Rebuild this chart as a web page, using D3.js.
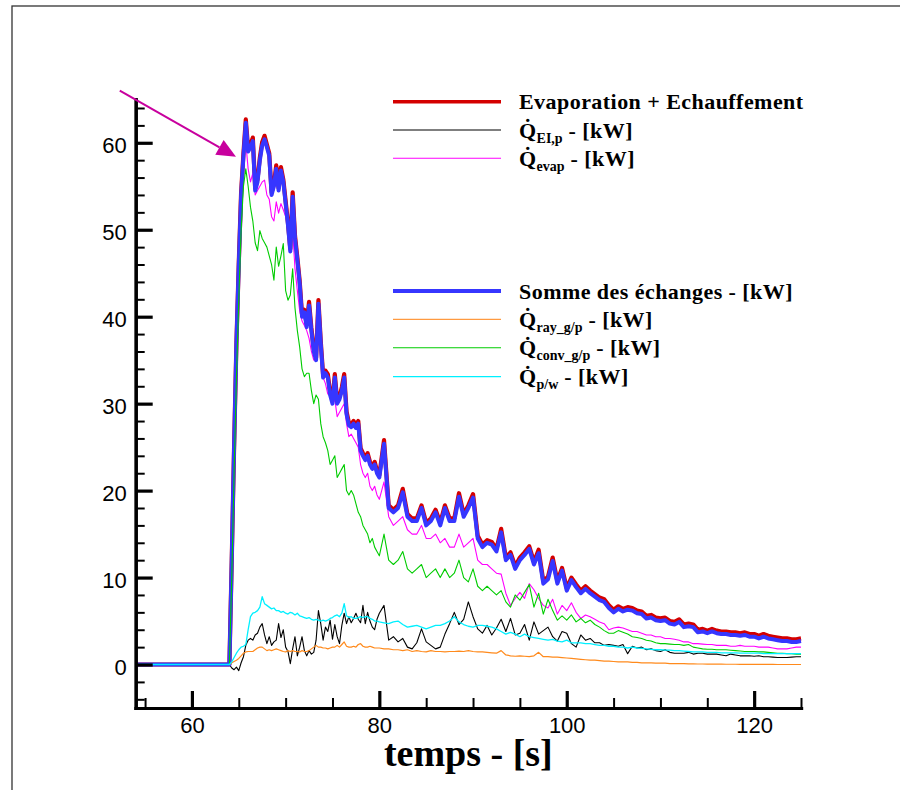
<!DOCTYPE html>
<html><head><meta charset="utf-8">
<script src="https://cdn.jsdelivr.net/npm/d3@7"></script>
<style>body{margin:0;background:#fff}svg{display:block}</style>
</head><body>
<svg id="c" width="900" height="790"></svg>
<script>
// ---------- DATA ----------
const time = [54,
 64,
 64.25,64.5,64.75,65,65.25,65.5,65.75,66,
 66.25,66.5,66.75,67,67.25,67.5,67.75,68,
 68.25,68.5,68.75,69,69.25,69.5,69.75,70,
 70.25,70.5,70.75,71,71.25,71.5,71.75,72,
 72.25,72.5,72.75,73,73.25,73.5,73.75,74,
 74.25,74.5,74.75,75,75.25,75.5,75.75,76,
 76.25,76.5,76.75,77,77.25,77.5,77.75,78,
 78.25,78.5,78.75,79,79.25,79.5,79.75,80,
 80.5,81,81.5,82,82.5,83,83.5,84,84.5,85,
 85.5,86,86.5,87,87.5,88,88.5,89,89.5,90,
 90.5,91,91.5,92,92.5,93,93.5,94,94.5,95,
 95.5,96,96.5,97,97.5,98,98.5,99,99.5,100,
 100.5,101,101.5,102,102.5,103,103.5,104,104.5,105,
 105.5,106,106.5,107,107.5,108,108.5,109,109.5,110,
 110.5,111,111.5,112,112.5,113,113.5,114,114.5,115,
 115.5,116,116.5,117,117.5,118,118.5,119,119.5,120,
 120.5,121,121.5,122,122.5,123,123.5,124,124.5,125];

// Evaporation + Echauffement (red)
const evapEchauff = [0,
 0,
 12,25,37,46.2,54.3,58.8,62.7,59.3,
 59.8,60.6,54.8,55.8,58.3,60.1,60.8,59.8,
 58.8,54.3,55.3,57.4,54.8,57.2,55.8,53.3,
 50.8,47.8,54.3,49.3,46.8,44.1,40.3,40.8,
 39.1,41.7,38.7,36.3,35.3,41.9,37.2,33.3,
 33.8,33.4,31.3,30.3,33.4,30.3,30.8,31.9,
 33.4,29.1,27.8,27.6,28.0,27.5,28.0,24.9,
 24.3,23.8,24.3,23.3,22.8,23.3,22.3,21.8,
 25.8,18.3,17.8,18.3,20.2,17.3,16.8,16.8,18.3,16.3,
 16.8,17.8,16.3,18.3,16.8,16.8,19.7,17.3,18.3,19.6,
 14.8,13.8,14.3,14.1,13.3,15.6,12.3,12.9,11.3,12.3,
 12.9,13.6,11.8,13.2,9.6,10.1,12.3,9.6,11.1,8.8,
 10.0,9.2,8.5,9.0,8.5,8.1,7.7,7.5,6.8,6.3,
 6.7,6.4,6.6,6.5,6.2,6.1,5.6,5.7,5.4,5.3,
 5.4,5.0,4.9,5.2,4.6,4.7,4.6,4.0,4.1,3.9,
 4.1,3.9,3.8,3.8,3.7,3.7,3.6,3.7,3.5,3.5,
 3.3,3.5,3.3,3.2,3.1,3.0,3.0,2.9,2.9,3.0];

// Q_EI,p (black)
const qEIp = [0,
 0,
 -0.4,-0.6,-0.3,-0.7,0.2,0.9,2.2,2.8,
 3.0,2.8,3.4,3.6,4.3,4.7,3.4,2.4,
 3.2,2.2,2.6,2.8,4.7,3.1,4.0,2.0,
 1.5,0.1,1.8,3.2,1.0,2.0,3.2,1.6,
 1.0,1.6,1.2,1.4,2.8,6.2,4.7,2.8,
 4.3,3.8,5.1,2.9,4.6,3.2,2.4,4.5,
 5.9,4.7,5.5,4.8,5.3,5.9,5.2,4.8,
 6.8,4.7,6.0,5.0,4.3,4.0,5.2,5.9,
 6.8,2.8,3.2,2.6,3.0,2.0,1.8,2.5,4.1,2.6,
 2.2,1.8,2.0,3.5,4.7,6.0,4.6,5.2,7.2,5.5,
 4.1,3.6,4.5,3.4,4.2,5.2,3.8,5.3,3.4,3.6,
 4.6,2.8,4.9,3.5,3.9,4.3,3.2,2.7,3.8,3.6,
 2.4,2.0,3.4,2.8,3.0,2.5,2.5,2.2,2.3,2.2,
 2.1,2.3,1.25,2.1,1.9,2.0,1.7,1.8,1.6,1.5,
 1.7,1.4,1.3,1.3,1.3,1.4,1.2,1.3,1.3,1.2,
 1.2,1.2,1.1,1.0,1.2,1.1,1.0,1.0,1.0,0.95,
 1.0,0.9,0.9,0.85,0.8,0.8,0.8,0.85,0.9,0.9];

// Q_evap (magenta)
const qEvap = [0,
 0,
 11.5,24,36,45,52,57.5,60,57,
 55.5,56.5,54,54.5,55,55.5,55.7,54,
 53.5,51.5,51,53.2,51.9,53,52.3,51.5,
 50.5,47.6,49.9,45.5,43,40.7,39.5,39,
 38.4,37.5,36,35,36,40,35,33,
 32.3,31.1,31,30,30.5,28.5,29,29.5,
 30,27.7,26.2,26.5,26,25.5,25,23,
 22,21.5,22,20.5,20,20.5,19.5,19,
 21,17,16,16.5,17,15.5,15,15,16,14.5,
 14.5,15,14,14.5,13.5,13.5,15,13.5,14,14.5,
 12,11.5,11.5,11,10.5,10.4,8.2,6.8,7.6,8.3,
 7.6,9.3,8.6,7.6,6.8,6.5,7.5,5.8,6.8,6.2,
 7.1,6.0,5.3,5.7,5.5,5.2,4.9,4.7,4.0,4.2,
 4.3,4.2,4.0,3.8,3.8,3.6,3.4,3.4,3.2,3.2,
 3.0,3.0,2.9,2.8,2.6,2.6,2.4,2.4,2.35,2.3,
 2.3,2.2,2.2,2.2,2.1,2.1,2.2,2.1,2.1,2.1,
 2.0,2.0,2.0,1.9,1.8,1.8,1.8,1.9,2.0,2.0];

// Somme des échanges (blue)
const sommeEchanges = [0,
 0,
 12,25,37,46,54,58.5,62.3,59,
 59.5,60.2,54.5,55.5,58,59.7,60.4,59.5,
 58.5,54,55,57,54.5,56.8,55.5,53,
 50.5,47.5,53.8,49,46.5,43.8,40,40.5,
 38.8,41.3,38.4,36,35,41.5,36.9,33,
 33.5,33,31,30,33,30,30.5,31.5,
 33,28.8,27.5,27.3,27.7,27.2,27.7,24.6,
 24,23.5,24,23,22.5,23,22,21.5,
 25.4,18,17.5,18,19.8,17,16.5,16.5,18,16,
 16.5,17.5,16,18,16.5,16.5,19.3,17,18,19.2,
 14.5,13.5,14,13.8,13,15.2,12,12.6,11,12,
 12.6,13.3,11.5,12.8,9.3,9.8,11.9,9.3,10.8,8.5,
 9.7,8.9,8.2,8.7,8.2,7.8,7.4,7.2,6.5,6.0,
 6.4,6.1,6.3,6.2,5.9,5.8,5.3,5.4,5.1,5.0,
 5.1,4.7,4.6,4.9,4.3,4.4,4.3,3.7,3.8,3.6,
 3.8,3.6,3.5,3.5,3.4,3.4,3.3,3.4,3.2,3.2,
 3.0,3.2,3.0,2.9,2.8,2.7,2.7,2.6,2.6,2.7];

// Q_ray_g/p (orange)
const qRay = [0,
 0,
 0.2,0.35,0.5,0.7,1.0,1.3,1.45,1.5,
 1.5,1.5,1.7,1.9,2.0,2.0,1.8,1.6,
 1.7,1.6,1.7,1.8,1.7,1.6,1.5,1.45,
 1.6,1.5,1.6,1.5,1.5,1.45,1.6,1.5,
 1.5,1.6,1.8,2.0,2.2,2.0,2.0,1.9,
 1.9,1.8,1.9,2.0,2.0,2.2,2.0,2.3,
 2.6,2.1,2.0,2.0,2.1,2.0,2.3,2.4,
 2.1,2.0,2.0,2.1,2.0,1.9,1.9,1.9,
 1.8,1.8,1.7,1.7,1.6,1.7,1.5,1.6,1.5,1.45,
 1.6,1.5,1.5,1.45,1.5,1.5,1.55,1.5,1.6,1.5,
 1.45,1.45,1.4,1.35,1.3,1.6,1.1,1.0,0.95,1.0,
 0.95,0.9,1.0,1.4,0.9,0.9,0.85,0.85,0.8,0.75,
 0.7,0.65,0.6,0.55,0.5,0.5,0.45,0.4,0.4,0.35,
 0.3,0.3,0.3,0.25,0.25,0.2,0.2,0.2,0.15,0.15,
 0.15,0.1,0.1,0.1,0.1,0.08,0.08,0.06,0.06,0.05,
 0.05,0.04,0.04,0.03,0.03,0.03,0.02,0.02,0.02,0.02,
 0.01,0.01,0.01,0.01,0,0,0,0,0,0];

// Q_conv_g/p (green)
const qConv = [0,
 0,
 10,22,33,42,50,55,57,55,
 52.6,51,48.5,47.6,49.9,49,48.5,48,
 47,46,44.2,48,45.8,47,48.4,43,
 41.9,42.5,45.5,41,38.4,36.5,34,33.1,
 33.5,33.5,31.5,30,31,30.5,27.7,26.2,
 25.5,24.6,23,23.5,24,21.5,22,22.5,
 23,20,19.5,20,19.5,18.5,17.5,17,
 16,15.5,15,14,14.5,13.5,13,12.5,
 15,12,11.5,12,13,11,10.5,11,11.5,10,
 10.5,11,10,11,10,10.5,12,10,9.5,11,
 9,8.5,9,8.5,8,8.5,7.2,6.6,8.0,7.4,
 8.3,9.2,6.6,8.2,5.8,7.5,6.2,5.1,5.6,5.1,
 5.7,4.9,5.3,4.8,5.1,4.6,4.3,3.9,3.6,3.6,
 3.9,3.7,3.5,3.2,3.1,3.0,2.8,2.7,2.5,2.4,
 2.4,2.35,2.3,2.3,2.2,2.3,2.0,1.9,1.8,1.75,
 1.75,1.7,1.7,1.7,1.65,1.6,1.55,1.5,1.5,1.5,
 1.45,1.45,1.4,1.35,1.3,1.3,1.25,1.25,1.2,1.2];

// Q_p/w (cyan)
const qPw = [0,
 0,
 0.3,0.8,1.3,1.7,2.0,2.1,2.3,4,
 5.5,5.9,6.0,6.2,6.6,7.8,7.0,6.8,
 6.6,6.4,6.5,6.2,6.2,6.0,6.1,5.9,
 5.8,6.0,5.9,5.7,5.9,5.6,5.5,5.4,
 5.3,5.4,5.2,5.1,5.2,5.1,5.0,5.1,
 5.0,5.1,5.3,5.4,5.6,5.7,5.5,5.9,
 7.0,5.6,5.4,5.5,5.3,5.3,5.4,5.5,
 5.4,5.5,5.5,5.3,5.2,5.0,5.0,4.9,
 4.8,4.7,4.9,5.0,4.6,4.3,4.4,4.5,4.3,4.1,
 4.3,4.5,4.5,4.7,5.0,5.5,4.9,4.6,4.4,4.3,
 4.5,4.5,4.4,4.3,4.1,3.8,3.5,3.7,3.5,3.2,
 3.5,3.2,3.1,3.0,2.9,2.8,2.9,2.7,2.6,2.8,
 2.5,2.5,2.5,2.4,2.4,2.3,2.2,2.2,2.1,2.1,
 2.0,2.0,1.9,2.0,1.9,1.85,1.8,1.75,1.7,1.7,
 1.65,1.65,1.6,1.6,1.55,1.5,1.45,1.45,1.45,1.4,
 1.4,1.4,1.35,1.35,1.35,1.35,1.3,1.3,1.3,1.3,
 1.3,1.25,1.25,1.25,1.25,1.25,1.25,1.25,1.25,1.25];

const xMajorTicks = [60, 80, 100, 120];
const xMinorTicks = [55, 65, 70, 75, 85, 90, 95, 105, 110, 115, 125];
const yMajorTicks = [0, 10, 20, 30, 40, 50, 60];
const yMinorTicks = [-4, -2, 2, 4, 6, 8, 12, 14, 16, 18, 22, 24, 26, 28, 32, 34, 36, 38, 42, 44, 46, 48, 52, 54, 56, 58, 62, 64];
const xTitle = "temps - [s]";
// arrow annotation (data coordinates)
const arrowFrom = [52.3, 66.0];
const arrowTo = [64.7, 58.4];

// ---------- CHART ----------
const svg = d3.select("#c");
const x = d3.scaleLinear().domain([54, 125]).range([135.7, 801]);
const y = d3.scaleLinear().domain([-5, 65]).range([708, 99.3]);

// outer frame
svg.append("rect").attr("x", 12).attr("y", 6).attr("width", 900).attr("height", 800)
  .attr("fill", "none").attr("stroke", "#333").attr("stroke-width", 1.3);

const series = [
  {name: "red", vals: evapEchauff, color: "#d40000", w: 4.2},
  {name: "black", vals: qEIp, color: "#000000", w: 1.1},
  {name: "magenta", vals: qEvap, color: "#ff00ff", w: 1.1},
  {name: "blue", vals: sommeEchanges, color: "#3636ff", w: 4},
  {name: "orange", vals: qRay, color: "#ff8a1c", w: 1.2},
  {name: "green", vals: qConv, color: "#00cc00", w: 1.1},
  {name: "cyan", vals: qPw, color: "#00f0ff", w: 1.3}
];
const line = d3.line().x((d, i) => x(time[i])).y(d => y(d));
const gLines = svg.append("g");
series.forEach(s => {
  gLines.append("path").datum(s.vals).attr("d", line)
    .attr("fill", "none").attr("stroke", s.color).attr("stroke-width", s.w)
    .attr("stroke-linejoin", "round");
});

// axes
function styleAxis(g, w) {
  g.select(".domain").attr("stroke", "#000").attr("stroke-width", 3.2).attr("stroke-linecap", "square");
  g.selectAll(".tick line").attr("stroke", "#000").attr("stroke-width", w);
}
const gxMinor = svg.append("g").attr("transform", "translate(0,708)")
  .call(d3.axisBottom(x).tickValues(xMinorTicks).tickSizeInner(-10).tickSizeOuter(0).tickFormat(""));
styleAxis(gxMinor, 2);
const gx = svg.append("g").attr("transform", "translate(0,708)")
  .call(d3.axisBottom(x).tickValues(xMajorTicks).tickSizeInner(-17).tickSizeOuter(0).tickPadding(9));
styleAxis(gx, 3.2);
gx.selectAll(".tick text").attr("font-family", "Liberation Sans, Arial, sans-serif")
  .attr("font-size", 22).attr("fill", "#000");

const gyMinor = svg.append("g").attr("transform", "translate(135.7,0)")
  .call(d3.axisLeft(y).tickValues(yMinorTicks).tickSizeInner(-9).tickSizeOuter(0).tickFormat(""));
styleAxis(gyMinor, 2);
const gy = svg.append("g").attr("transform", "translate(135.7,0)")
  .call(d3.axisLeft(y).tickValues(yMajorTicks).tickSizeInner(-17).tickSizeOuter(0).tickPadding(9));
styleAxis(gy, 3.2);
gy.selectAll(".tick text").attr("font-family", "Liberation Sans, Arial, sans-serif")
  .attr("font-size", 22).attr("fill", "#000").attr("dy", "0.45em");

// x title
svg.append("text").attr("x", (x.range()[0] + x.range()[1]) / 2).attr("y", 766)
  .attr("text-anchor", "middle").attr("font-family", "Liberation Serif, Times New Roman, serif")
  .attr("font-weight", "bold").attr("font-size", 38).text(xTitle);

// arrow
const ax0 = x(arrowFrom[0]), ay0 = y(arrowFrom[1]), ax1 = x(arrowTo[0]), ay1 = y(arrowTo[1]);
const ang = Math.atan2(ay1 - ay0, ax1 - ax0);
const hl = 19, hw = 8.5;
const bx = ax1 - hl * Math.cos(ang), by = ay1 - hl * Math.sin(ang);
svg.append("line").attr("x1", ax0).attr("y1", ay0).attr("x2", bx).attr("y2", by)
  .attr("stroke", "#c8009e").attr("stroke-width", 2);
svg.append("path").attr("d", `M${ax1},${ay1}L${bx - hw * Math.sin(ang)},${by + hw * Math.cos(ang)}L${bx + hw * Math.sin(ang)},${by - hw * Math.cos(ang)}Z`)
  .attr("fill", "#c8009e");

// legend
const legendItems = [
  {y: 101.7, color: "#d40000", w: 3.5, main: "Evaporation + Echauffement"},
  {y: 130, color: "#000", w: 1.1, q: true, sub: "EI,p"},
  {y: 158.3, color: "#ff00ff", w: 1.1, q: true, sub: "evap"},
  {y: 291, color: "#3636ff", w: 4, main: "Somme des échanges - [kW]"},
  {y: 319.3, color: "#ff9a40", w: 1.2, q: true, sub: "ray_g/p"},
  {y: 347.7, color: "#00cc00", w: 1.1, q: true, sub: "conv_g/p"},
  {y: 376.7, color: "#00f0ff", w: 1.3, q: true, sub: "p/w"}
];
const gl = svg.append("g").attr("font-family", "Liberation Serif, Times New Roman, serif")
  .attr("font-weight", "bold").attr("fill", "#000");
legendItems.forEach(it => {
  gl.append("line").attr("x1", 393).attr("x2", 501).attr("y1", it.y).attr("y2", it.y)
    .attr("stroke", it.color).attr("stroke-width", it.w);
  const t = gl.append("text").attr("x", 519).attr("y", it.y + 7.5).attr("font-size", 22)
    .attr("letter-spacing", 0.45);
  if (it.q) {
    t.append("tspan").text("Q\u0307");
    t.append("tspan").attr("font-size", 14).attr("dy", 5).attr("letter-spacing", 0).text(it.sub);
    t.append("tspan").attr("dy", -5).text(" - [kW]");
  } else {
    t.text(it.main);
  }
});
</script>
</body></html>
